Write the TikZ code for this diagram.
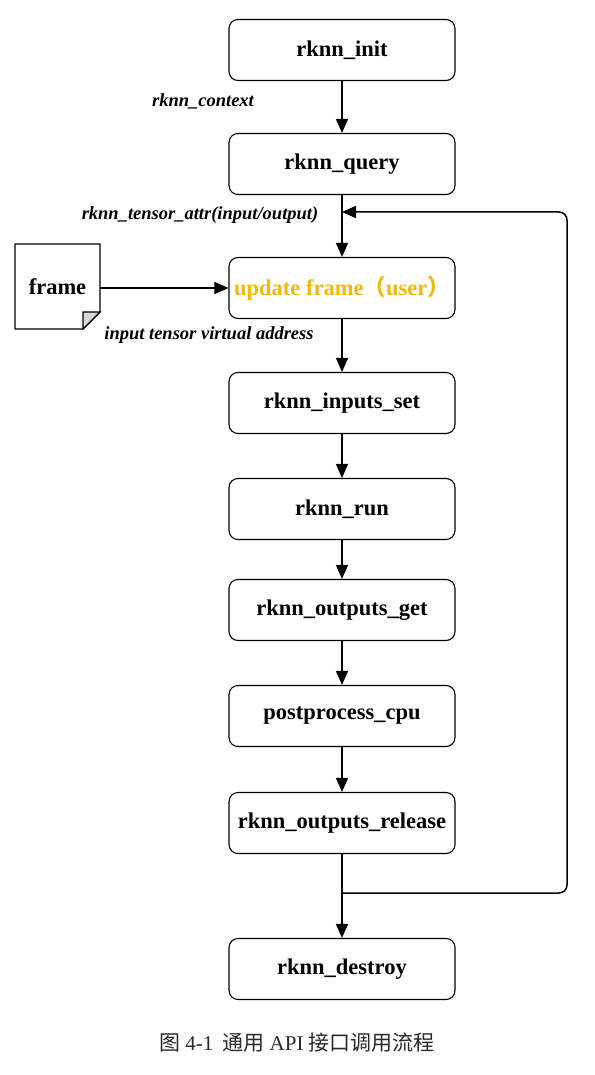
\documentclass[tikz,border=0pt]{standalone}
\usepackage{fontspec}
\setmainfont{Liberation Serif}
\newfontfamily\cjk{Noto Sans CJK SC}
\usetikzlibrary{arrows.meta, positioning, calc}
\definecolor{userorange}{RGB}{242, 184, 10}
\definecolor{captiongray}{RGB}{40, 40, 40}

\begin{document}
\begin{tikzpicture}[x=1pt, y=-1pt,
  apibox/.style={draw, line width=1.1pt, rounded corners=9pt, minimum width=226pt, minimum height=61pt, font=\fontsize{22.5}{26}\selectfont\bfseries},
  flow/.style={line width=1.5pt, -{Triangle[length=14pt, width=12pt]}},
  note/.style={font=\fontsize{18.5}{22}\selectfont\bfseries\itshape}]
  \useasboundingbox (0,0) rectangle (594,1075);

  % main call chain
  \node[apibox] (init) at (342, 50) {rknn\_init};
  \node[apibox] (query) at (342, 164) {rknn\_query};
  \node[apibox, text=userorange] (update) at (342, 288) {update frame{\cjk （}user{\cjk ）}};
  \node[apibox] (inset) at (342, 403) {rknn\_inputs\_set};
  \node[apibox] (run) at (342, 509) {rknn\_run};
  \node[apibox] (outget) at (342, 610) {rknn\_outputs\_get};
  \node[apibox] (post) at (342, 716) {postprocess\_cpu};
  \node[apibox] (outrel) at (342, 823) {rknn\_outputs\_release};
  \node[apibox] (destroy) at (342, 969) {rknn\_destroy};

  % frame document with folded corner
  \draw[line width=1.1pt] (15,244) -- (100,244) -- (100,312) -- (83,329) -- (15,329) -- cycle;
  \draw[line width=1.1pt, fill=black!15] (100,312) -- (83,312) -- (83,329) -- cycle;
  \node[font=\fontsize{22.5}{26}\selectfont\bfseries] (frame) at (57.5, 287) {frame};
  \coordinate (frameout) at (100, 288);

  % arrows
  \draw[flow] (init) -- (query);
  \draw[flow] (query) -- (update);
  \draw[flow] (update) -- (inset);
  \draw[flow] (inset) -- (run);
  \draw[flow] (run) -- (outget);
  \draw[flow] (outget) -- (post);
  \draw[flow] (post) -- (outrel);
  \draw[flow] (outrel) -- (destroy);
  \draw[flow] (frameout) -- (update.west);

  % loop back
  \coordinate (loopstart) at (342, 893);
  \coordinate (loopend) at (342, 212);
  \draw[flow, rounded corners=8pt] (loopstart) -- (567, 893) -- (567, 212) -- (loopend);

  % labels
  \node[note] (ctx) at (203, 101) {rknn\_context};
  \node[note] (attr) at (200, 215) {rknn\_tensor\_attr(input/output)};
  \node[note] (addr) at (209, 335) {input tensor virtual address};

  % caption
  \node[text=captiongray, font=\fontsize{21}{25}\selectfont] (caption) at (297, 1043) {{\cjk 图} 4-1\hspace{9pt}{\cjk 通用} API {\cjk 接口调用流程}};
\end{tikzpicture}
\end{document}
